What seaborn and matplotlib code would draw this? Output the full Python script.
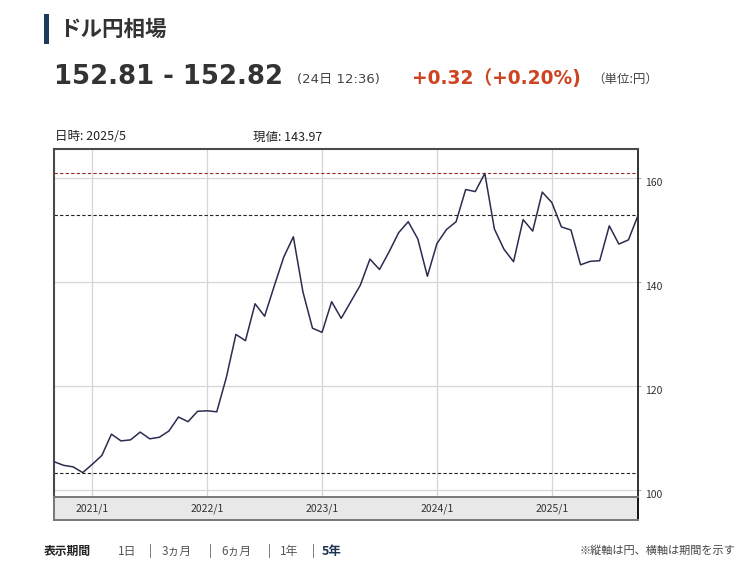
import matplotlib
matplotlib.use("Agg")
import matplotlib.pyplot as plt
import matplotlib.transforms as mtransforms
from matplotlib.patches import Rectangle
import seaborn as sns
import pandas as pd

# monthly closes, USD/JPY
months = (["2020/%d" % m for m in range(9, 13)]
          + ["%d/%d" % (y, m) for y in range(2021, 2025) for m in range(1, 13)]
          + ["2025/%d" % m for m in range(1, 11)])
values = [105.4, 104.7, 104.4, 103.3,
          104.9, 106.6, 110.7, 109.4, 109.6, 111.1, 109.8, 110.1, 111.3, 114.0, 113.1, 115.1,
          115.2, 115.0, 121.6, 129.9, 128.7, 135.8, 133.4, 139.2, 144.8, 148.7, 138.1, 131.1,
          130.3, 136.2, 133.0, 136.2, 139.4, 144.4, 142.4, 145.8, 149.5, 151.6, 148.3, 141.1,
          147.4, 150.1, 151.6, 157.8, 157.4, 160.9, 150.2, 146.3, 143.9, 152.0, 149.8, 157.3,
          155.3, 150.6, 150.0, 143.3, 143.97, 144.1, 150.8, 147.3, 148.1, 152.8]
yticks = [100, 120, 140, 160]
hover_month = "2025/5"

df = pd.DataFrame({"month": months, "rate": values})
df["i"] = range(len(df))

sns.set_style("white")
plt.rcParams["font.family"] = ["Noto Sans CJK JP", "DejaVu Sans"]
latin = ["DejaVu Sans", "Noto Sans CJK JP"]

W, H = 740, 578
fig = plt.figure(figsize=(W / 100, H / 100), dpi=100)


def px(x, y):
    return x / W, 1 - y / H


# header
fig.add_artist(Rectangle(px(44, 44), 5 / W, 30 / H, transform=fig.transFigure,
                         color="#1f3b5c", lw=0))
fig.text(*px(59, 29), "ドル円相場", fontsize=15.5, fontweight="bold", color="#333333", va="center")
fig.text(*px(54, 84), "152.81 - 152.82", fontsize=18.7, fontweight="bold", color="#333333",
         va="baseline", family=latin)
fig.text(*px(297, 83), "(24日 12:36)", fontsize=9.5, color="#444444", va="baseline",
         family=latin)
fig.text(*px(412, 84), "+0.32（+0.20%)", fontsize=13.4, fontweight="bold", color="#cc4420",
         va="baseline", family=latin)
fig.text(*px(592, 83), "（単位:円）", fontsize=9, color="#444444", va="baseline")

hi = months.index(hover_month)
fig.text(*px(55, 137), "日時: %s" % months[hi], fontsize=9, color="#222222", va="center")
fig.text(*px(253, 137), "現値: %.2f" % values[hi], fontsize=9, color="#222222", va="center")

# main chart
ax = fig.add_axes([54 / W, (H - 497) / H, 584 / W, 348 / H])
sns.lineplot(data=df, x="i", y="rate", ax=ax, color="#2a2c50", lw=1.1, zorder=3)
ax.set_xlim(df["i"].min(), df["i"].max())
ax.set_ylim(98.6, 165.6)

jan = df[df["month"].str.endswith("/1")]
xt = jan["i"].tolist()
xl = jan["month"].tolist()
ax.set_xticks(xt)
ax.set_xticklabels([])
ax.tick_params(axis="x", length=0)
ax.grid(True, color="#d6d6d6", lw=0.9)
ax.set_axisbelow(True)

ax.yaxis.tick_right()
ax.set_yticks(yticks)
ax.tick_params(axis="y", length=2, width=0.6, color="#999999", labelsize=7.5,
               labelcolor="#333333", pad=3)
off = mtransforms.ScaledTranslation(0, -4 / 100, fig.dpi_scale_trans)
for lab in ax.get_yticklabels():
    lab.set_transform(lab.get_transform() + off)
ax.set_xlabel("")
ax.set_ylabel("")

ax.axhline(max(values), color="#9a2b2b", lw=0.8, ls=(0, (3, 2)), zorder=2)
ax.axhline(values[-1], color="#222222", lw=0.8, ls=(0, (3, 2)), zorder=2)
ax.axhline(min(values), color="#222222", lw=0.8, ls=(0, (3, 2)), zorder=2)

for s in ["left", "top"]:
    ax.spines[s].set_color("#4a4a4a")
    ax.spines[s].set_linewidth(1.5)
ax.spines["right"].set_color("#111111")
ax.spines["right"].set_linewidth(1.2)
ax.spines["bottom"].set_visible(False)

# date band
band = fig.add_axes([54 / W, (H - 520) / H, 584 / W, 23 / H], sharex=ax)
band.set_facecolor("#e8e8e8")
band.set_yticks([])
band.tick_params(axis="x", length=0, labelbottom=False)
for s in band.spines.values():
    s.set_color("#777777")
    s.set_linewidth(1.4)
band.spines["right"].set_color("#111111")
for x, lab in zip(xt, xl):
    band.text(x, 0.5, lab, transform=band.get_xaxis_transform(), ha="center", va="center",
              fontsize=7.5, color="#333333")

# footer
fig.text(*px(44, 551), "表示期間", fontsize=8.5, fontweight="bold", color="#222222", va="center")
for x, t in zip([118, 149, 162, 209, 221, 268, 280, 312], ["1日", "|", "3ヵ月", "|", "6ヵ月",
                                                          "|", "1年", "|"]):
    fig.text(*px(x, 551), t, fontsize=8.5, color="#555555", va="center")
fig.text(*px(322, 551), "5年", fontsize=9, fontweight="bold", color="#1f3350", va="center")
fig.text(*px(735, 551), "※縦軸は円、横軸は期間を示す", fontsize=8, color="#444444",
         va="center", ha="right")

fig.savefig("out.png", dpi=100)
